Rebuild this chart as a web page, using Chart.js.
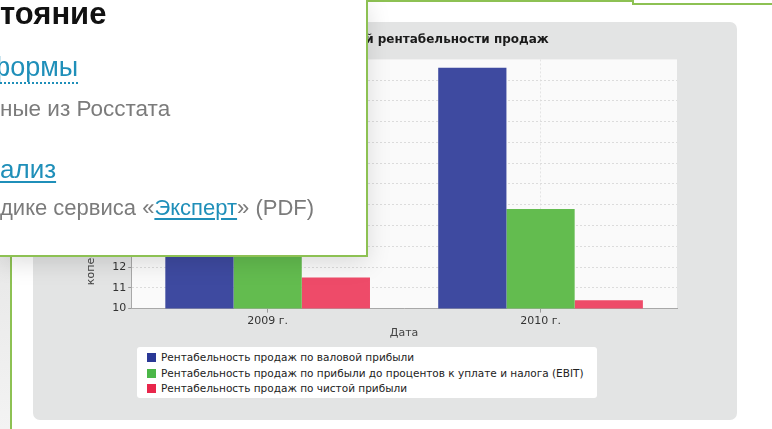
<!DOCTYPE html>
<html>
<head>
<meta charset="utf-8">
<script src="https://cdn.jsdelivr.net/npm/chart.js@4"></script>
<style>
  html, body { margin: 0; padding: 0; }
  body { width: 772px; height: 429px; position: relative; overflow: hidden; background: #fff; font-family: "Liberation Sans", Arial, sans-serif; }
  .side { position: absolute; left: 0; top: 0; width: 10px; height: 429px; background: linear-gradient(#d8d8d8, #f3f3f3); }
  .vline { position: absolute; left: 10px; top: 0; width: 2px; height: 429px; background: #8dc153; }
  .topline1 { position: absolute; left: 366px; top: 0; width: 268px; height: 2px; background: #8dc153; }
  .topline2 { position: absolute; left: 632px; top: 3px; width: 140px; height: 2px; background: #8dc153; }
  .topv { position: absolute; left: 632px; top: 0; width: 2px; height: 4px; background: #8dc153; }
  .panel { position: absolute; left: 33px; top: 22px; width: 704px; height: 398px; background: #e3e4e4; border-radius: 7px; }
  .chartbox { position: absolute; left: 0; top: 0; width: 704px; height: 318px; }
  .legend { position: absolute; left: 104px; top: 325px; width: 460px; height: 51px; background: #fff; border-radius: 3px;
            font-family: "DejaVu Sans", sans-serif; font-size: 10.5px; color: #222; padding-top: 3px; box-sizing: border-box; }
  .legend div { height: 15.5px; line-height: 15.5px; padding-left: 10px; white-space: nowrap; }
  .legend span { display: inline-block; width: 9px; height: 9px; margin-right: 5px; vertical-align: -1px; }
  .popup { position: absolute; left: 0; top: 0; width: 366px; height: 255px; background: #fff; overflow: hidden;
           border-right: 2px solid #8dc153; border-bottom: 2px solid #8dc153; box-shadow: 0 6px 22px rgba(0,0,0,0.13); }
  .popup div { position: absolute; white-space: nowrap; }
  .h { left: 0; top: -2px; font-size: 31px; line-height: 31px; font-weight: bold; color: #111; }
  .l1 { left: -12px; top: 54px; font-size: 27px; line-height: 27px; color: #1f8fb9; }
  .l1 span { border-bottom: 2px dotted #1f8fb9; padding-bottom: 0; }
  .g1 { left: 0; top: 98px; font-size: 22.5px; line-height: 22.5px; color: #7b7b7b; }
  .l2 { left: 0; top: 156px; font-size: 26px; line-height: 26px; color: #1f8fb9; text-decoration: underline; text-underline-offset: 3px; text-decoration-thickness: 2px; }
  .g2 { left: 0; top: 197px; font-size: 22px; line-height: 22px; color: #7b7b7b; }
  .g2 a { color: #1f8fb9; text-decoration: underline; text-underline-offset: 3px; text-decoration-thickness: 2px; }
</style>
</head>
<body>
<div class="side"></div>
<div class="vline"></div>
<div class="topline1"></div>
<div class="topv"></div>
<div class="topline2"></div>

<div class="panel">
  <div class="chartbox"><canvas id="salesChart"></canvas></div>
  <div class="legend" id="legend"></div>
</div>

<div class="popup">
  <div class="h">тояние</div>
  <div class="l1"><span>формы</span></div>
  <div class="g1">ные из Росстата</div>
  <div class="l2">ализ</div>
  <div class="g2">дике сервиса «<a>Эксперт</a>» (PDF)</div>
</div>

<script>
// Data
const years = ['2009 г.', '2010 г.'];
const grossMargin = [18.0, 21.6];
const ebitMargin = [15.5, 14.8];
const netMargin = [11.5, 10.4];
const seriesNames = [
    'Рентабельность продаж по валовой прибыли',
    'Рентабельность продаж по прибыли до процентов к уплате и налога (EBIT)',
    'Рентабельность продаж по чистой прибыли'
];
const barColors = ['#3e4aa0', '#63bc4f', '#ee4b69'];
const legendColors = ['#2a3896', '#4bb748', '#e8264b'];

const yMin = 10;
const yMax = 22;

// plot area background
const plotBg = {
    id: 'plotBg',
    beforeDraw(chart) {
        const a = chart.chartArea;
        const ctx = chart.ctx;
        ctx.save();
        ctx.fillStyle = '#fafafa';
        ctx.fillRect(a.left, a.top, a.right - a.left, a.bottom - a.top);
        ctx.restore();
    }
};

const font = "'DejaVu Sans', sans-serif";

const ctx = document.getElementById('salesChart').getContext('2d');
const chart = new Chart(ctx, {
    type: 'bar',
    data: {
        labels: years,
        datasets: [
            { label: seriesNames[0], data: grossMargin, backgroundColor: barColors[0] },
            { label: seriesNames[1], data: ebitMargin, backgroundColor: barColors[1] },
            { label: seriesNames[2], data: netMargin, backgroundColor: barColors[2] }
        ]
    },
    options: {
        responsive: true,
        maintainAspectRatio: false,
        animation: false,
        layout: { padding: { left: 50, right: 60, top: 0, bottom: 0 } },
        datasets: { bar: { categoryPercentage: 0.75, barPercentage: 1.0 } },
        plugins: {
            legend: { display: false },
            tooltip: { enabled: false },
            title: {
                display: true,
                text: 'Динамика показателей рентабельности продаж',
                color: '#1a1a1a',
                font: { family: font, size: 12, weight: 'bold' },
                padding: { top: 11, bottom: 12 }
            }
        },
        scales: {
            x: {
                grid: { offset: false, color: '#e4e4e4', tickLength: 4, tickColor: '#999' },
                border: { color: '#a8a8a8', width: 1, dash: [2, 2] },
                ticks: { color: '#333', font: { family: font, size: 11 }, padding: 2 },
                title: { display: true, text: 'Дата', color: '#444', font: { family: font, size: 11 }, padding: { top: -3, bottom: 0 } }
            },
            y: {
                min: yMin,
                max: yMax,
                ticks: { stepSize: 1, color: '#333', font: { family: font, size: 11 }, padding: 2 },
                grid: {
                    color: c => c.tick && c.tick.value === yMax ? 'rgba(0,0,0,0)' : '#dcdcdc',
                    tickLength: 3,
                    tickColor: '#999'
                },
                border: { color: '#a8a8a8', width: 1, dash: [2, 2] },
                title: { display: true, text: 'копеек прибыли на рубль выручки', color: '#444', font: { family: font, size: 11 }, padding: { top: 2, bottom: 12 } }
            }
        }
    },
    plugins: [plotBg]
});

// HTML legend
const legendEl = document.getElementById('legend');
chart.data.datasets.forEach((ds, i) => {
    const row = document.createElement('div');
    const box = document.createElement('span');
    box.style.background = legendColors[i];
    row.appendChild(box);
    row.appendChild(document.createTextNode(ds.label));
    legendEl.appendChild(row);
});
</script>
</body>
</html>
